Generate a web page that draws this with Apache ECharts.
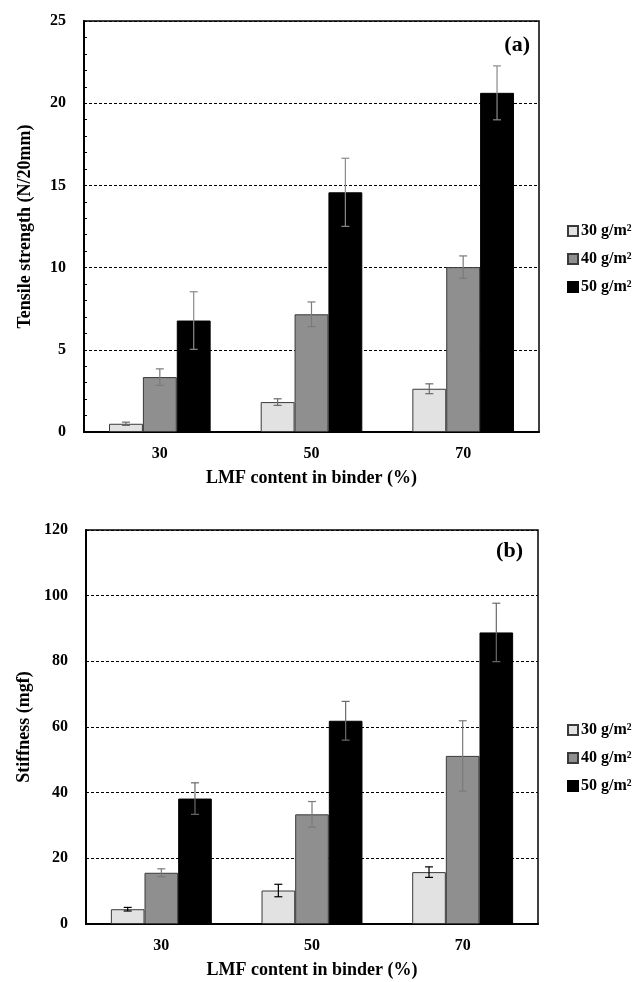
<!DOCTYPE html>
<html lang="en">
<head>
    <meta charset="UTF-8">
    <title>LMF binder</title>
    <style>
        #main{
            width: 633px;
            height: 982px;
        }
    </style>
    <script src="https://cdn.jsdelivr.net/npm/echarts@6/dist/echarts.min.js"></script>
</head>
<body style="margin: 0; background: #fff">
<div id="main"></div>
<script>
    // categories and series names
    var categories = ['30', '50', '70'];
    var names = ['30 g/m²', '40 g/m²', '50 g/m²'];

    // (a) tensile strength, N/20mm
    var tensile30 = [0.5, 1.82, 2.63];
    var tensile40 = [3.34, 7.16, 10.03];
    var tensile50 = [6.78, 14.58, 20.63];
    var tensileSd30 = [0.1, 0.2, 0.3];
    var tensileSd40 = [0.5, 0.75, 0.68];
    var tensileSd50 = [1.75, 2.07, 1.64];

    // (b) stiffness, mgf
    var stiff30 = [4.5, 10.2, 15.8];
    var stiff40 = [15.6, 33.4, 51.2];
    var stiff50 = [38.2, 61.9, 88.8];
    var stiffSd30 = [0.55, 1.9, 1.6];
    var stiffSd40 = [1.2, 3.9, 10.7];
    var stiffSd50 = [4.8, 5.9, 8.9];

    var chart = echarts.init(document.getElementById('main'));

    var font = 'Liberation Serif';
    var fills = ['#e2e2e2', '#8f8f8f', '#000000'];
    var borders = ['#3a3a3a', '#3a3a3a', '#000000'];
    var gapPct = 0.33;

    // error bar data: [category index, series index, low, high]
    function errData(means, sds) {
        var out = [];
        for (var k = 0; k < 3; k++) {
            for (var i = 0; i < categories.length; i++) {
                out.push([i, k, means[k][i] - sds[k][i], means[k][i] + sds[k][i]]);
            }
        }
        return out;
    }

    function makeRender(colors) {
        return function (params, api) {
            var cat = api.value(0), k = api.value(1);
            var band = api.size([1, 0])[0];
            var bw = band * (1 - gapPct) / 3;
            var x = api.coord([cat, 0])[0] + (k - 1) * bw;
            var yl = api.coord([cat, api.value(2)])[1];
            var yh = api.coord([cat, api.value(3)])[1];
            var st = {stroke: colors[k], lineWidth: 1.2};
            return {
                type: 'group',
                children: [
                    {type: 'line', shape: {x1: x, y1: yh, x2: x, y2: yl}, style: st},
                    {type: 'line', shape: {x1: x - 4, y1: yh, x2: x + 4, y2: yh}, style: st},
                    {type: 'line', shape: {x1: x - 4, y1: yl, x2: x + 4, y2: yl}, style: st}
                ]
            };
        };
    }

    function barSeries(idx, name, data, k) {
        return {
            name: name,
            type: 'bar',
            xAxisIndex: idx,
            yAxisIndex: idx,
            data: data,
            barGap: '0%',
            barCategoryGap: '33%',
            itemStyle: {color: fills[k], borderColor: borders[k], borderWidth: 1},
            emphasis: {disabled: true}
        };
    }

    function yAxisOf(idx, max, interval, title, minor) {
        return {
            type: 'value',
            gridIndex: idx,
            min: 0,
            max: max,
            interval: interval,
            name: title,
            nameLocation: 'middle',
            nameGap: 50,
            nameTextStyle: {fontFamily: font, fontWeight: 'bold', fontSize: 18, color: '#000'},
            axisLine: {show: true, lineStyle: {color: '#000', width: 2}},
            axisTick: {show: minor, inside: true, length: 3, lineStyle: {color: '#000'}},
            minorTick: {show: minor, splitNumber: 5, length: 3, lineStyle: {color: '#000'}},
            axisLabel: {fontFamily: font, fontWeight: 'bold', fontSize: 16, color: '#000', margin: 18},
            splitLine: {show: true, lineStyle: {color: '#000', type: [3, 2], width: 1}}
        };
    }

    function xAxisOf(idx) {
        return {
            type: 'category',
            gridIndex: idx,
            data: categories,
            name: 'LMF content in binder (%)',
            nameLocation: 'middle',
            nameGap: 37,
            nameTextStyle: {fontFamily: font, fontWeight: 'bold', fontSize: 18, color: '#000'},
            axisLine: {lineStyle: {color: '#000', width: 2}},
            axisTick: {show: false},
            axisLabel: {fontFamily: font, fontWeight: 'bold', fontSize: 16, color: '#000', margin: 14}
        };
    }

    function legendOf(top) {
        return {
            orient: 'vertical',
            left: 562,
            top: top,
            data: names,
            icon: 'rect',
            itemWidth: 10,
            itemHeight: 10,
            itemGap: 10,
            selectedMode: false,
            textStyle: {fontFamily: font, fontWeight: 'bold', fontSize: 16, color: '#000', lineHeight: 18, padding: [0, 0, 0, -2]}
        };
    }

    var option = {
        animation: false,
        title: [
            {text: '(a)', right: 98, top: 29, textStyle: {fontFamily: font, fontWeight: 'bold', fontSize: 22, color: '#000'}},
            {text: '(b)', right: 105, top: 535, textStyle: {fontFamily: font, fontWeight: 'bold', fontSize: 22, color: '#000'}}
        ],
        legend: [legendOf(217), legendOf(716)],
        grid: [
            {left: 84, right: 94, top: 21, height: 411, show: true, borderColor: '#000', borderWidth: 1.5},
            {left: 86, right: 95, top: 530, height: 394, show: true, borderColor: '#000', borderWidth: 1.5}
        ],
        xAxis: [xAxisOf(0), xAxisOf(1)],
        yAxis: [
            yAxisOf(0, 25, 5, 'Tensile strength (N/20mm)', true),
            yAxisOf(1, 120, 20, 'Stiffness (mgf)', false)
        ],
        series: [
            barSeries(0, names[0], tensile30, 0),
            barSeries(0, names[1], tensile40, 1),
            barSeries(0, names[2], tensile50, 2),
            barSeries(1, names[0], stiff30, 0),
            barSeries(1, names[1], stiff40, 1),
            barSeries(1, names[2], stiff50, 2),
            {
                type: 'custom',
                xAxisIndex: 0,
                yAxisIndex: 0,
                z: 5,
                silent: true,
                renderItem: makeRender(['#6a6a6a', '#7a7a7a', '#8a8a8a']),
                encode: {x: 0, y: [2, 3]},
                data: errData([tensile30, tensile40, tensile50], [tensileSd30, tensileSd40, tensileSd50])
            },
            {
                type: 'custom',
                xAxisIndex: 1,
                yAxisIndex: 1,
                z: 5,
                silent: true,
                renderItem: makeRender(['#000000', '#7a7a7a', '#6a6a6a']),
                encode: {x: 0, y: [2, 3]},
                data: errData([stiff30, stiff40, stiff50], [stiffSd30, stiffSd40, stiffSd50])
            }
        ]
    };

    chart.setOption(option);

    window.onresize = function () {
        chart.resize();
    };
</script>
</body>
</html>
